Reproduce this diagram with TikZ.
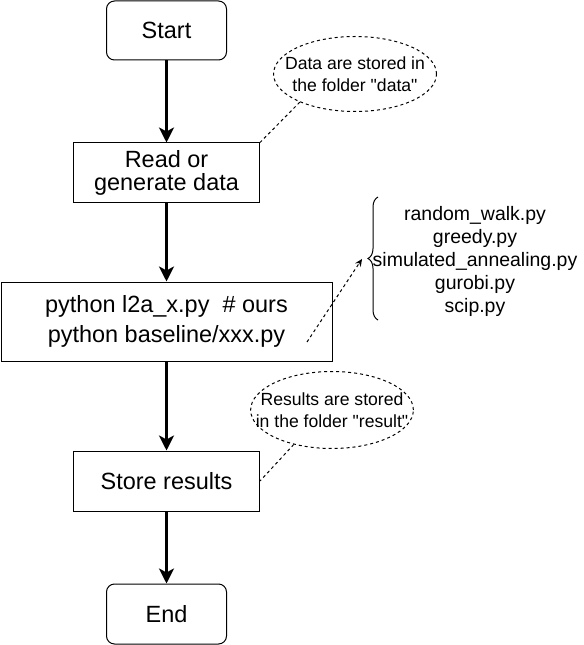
\documentclass[tikz,border=0pt]{standalone}
\usepackage{fontspec}
\setmainfont{Liberation Sans}
\usetikzlibrary{arrows.meta,shapes.geometric,decorations.pathreplacing}
\tikzset{
  mainfont/.style={font=\fontsize{17.6pt}{17.25pt}\selectfont},
  procbox/.style={draw, line width=0.75pt, inner sep=0pt, align=center, mainfont},
  termbox/.style={procbox, rounded corners=6pt},
  note/.style={draw, ellipse, line width=0.75pt, dash pattern=on 2.25pt off 2.25pt, inner xsep=-14pt, inner ysep=-6pt, align=center, font=\fontsize{13.2pt}{16.5pt}\selectfont},
  flow/.style={line width=2.25pt, -{Stealth[length=11.25pt,width=11.25pt,inset=3pt]}},
  link/.style={line width=0.75pt, dash pattern=on 2.25pt off 2.25pt},
  linkarrow/.style={link, -{Stealth[length=5.5pt,width=5pt]}},
  listtext/.style={align=center, inner sep=0pt, font=\fontsize{14.6pt}{17.25pt}\selectfont}
}
\begin{document}
\begin{tikzpicture}[x=0.75pt,y=-0.75pt]
\useasboundingbox (0,0) rectangle (584,645);
\node[termbox, minimum width=90pt, minimum height=44.25pt] (start) at (166.5,30.5) {Start};
\node[procbox, minimum width=139.5pt, minimum height=45pt] (read) at (166.5,173) {Read or\\generate data};
\node[procbox, minimum width=248.25pt, minimum height=59.25pt, font=\fontsize{17.6pt}{22.5pt}\selectfont] (py) at (166.5,321.5) {python l2a\_x.py~ \# ours\\python baseline/xxx.py};
\node[procbox, minimum width=139.5pt, minimum height=45pt] (store) at (166.5,481) {Store results};
\node[termbox, minimum width=90pt, minimum height=45pt] (end) at (166.5,614) {End};

\node[note, minimum width=122.25pt, minimum height=56.25pt] (data) at (355,74) {Data are stored in\\the folder \textquotedbl data\textquotedbl};
\node[note, minimum width=120.75pt, minimum height=57.75pt] (res) at (332,410) {Results are stored\\in the folder \textquotedbl result\textquotedbl};

\node[listtext] (list) at (475,261) {random\_walk.py\\greedy.py\\simulated\_annealing.py\\gurobi.py\\scip.py};

\draw[flow] (start) -- (read);
\draw[flow] (read) -- (py);
\draw[flow] (py) -- (store);
\draw[flow] (store) -- (end);

\draw[link] (data.207) -- (read.north east);
\draw[link] (res.222) -- (store.east);

\coordinate (bt) at (378,197);
\coordinate (bb) at (378,320);
\draw[line width=0.75pt, decorate, decoration={brace, amplitude=7.5pt}] (bb) -- (bt);

\coordinate (pyc) at (307,342);
\coordinate (btip) at (362,259);
\draw[linkarrow] (pyc) -- (btip);
\end{tikzpicture}
\end{document}
